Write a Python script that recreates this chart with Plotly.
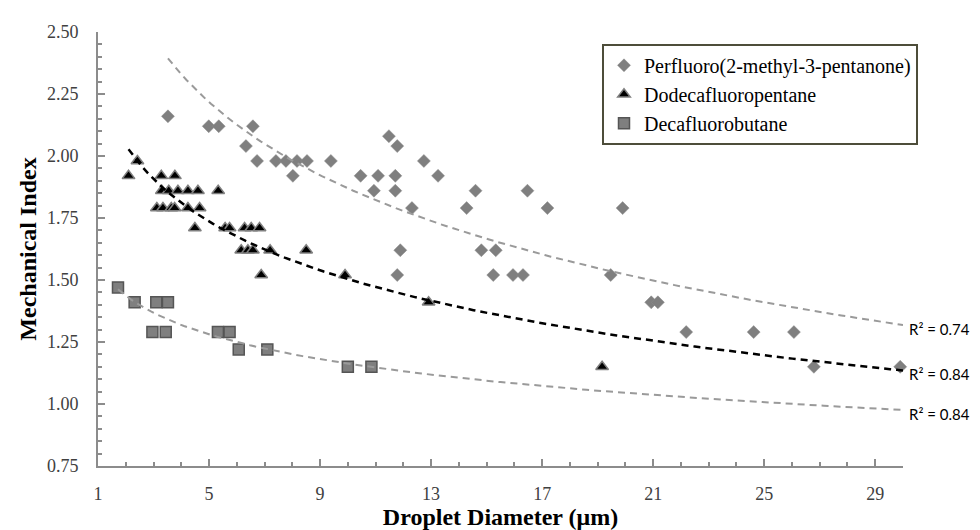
import numpy as np
import plotly.graph_objects as go

# ---- data ----
series_names = ["Perfluoro(2-methyl-3-pentanone)", "Dodecafluoropentane", "Decafluorobutane"]

pfmp_x = [3.52, 4.99, 5.35, 6.58, 6.33, 6.73, 7.41, 7.77, 8.17, 8.53, 8.02, 9.39, 10.46, 11.09,
          10.94, 11.48, 11.78, 11.71, 11.71, 12.74, 13.25, 12.31, 14.60, 14.28, 16.47, 17.19,
          11.89, 11.78, 14.81, 15.33, 15.24, 15.95, 16.31, 19.90, 19.47, 20.93, 21.17, 22.19,
          24.62, 26.07, 26.79, 29.90]
pfmp_y = [2.16, 2.12, 2.12, 2.12, 2.04, 1.98, 1.98, 1.98, 1.98, 1.98, 1.92, 1.98, 1.92, 1.92,
          1.86, 2.08, 2.04, 1.92, 1.86, 1.98, 1.92, 1.79, 1.86, 1.79, 1.86, 1.79,
          1.62, 1.52, 1.62, 1.62, 1.52, 1.52, 1.52, 1.79, 1.52, 1.41, 1.41, 1.29,
          1.29, 1.29, 1.15, 1.15]

ddfp_x = [2.10, 2.42, 3.28, 3.77,
          3.30, 3.55, 3.88, 4.24, 4.60, 5.33,
          3.12, 3.34, 3.64, 3.76, 4.24, 4.66,
          4.49, 5.58, 5.74, 6.28, 6.52, 6.82,
          6.16, 6.40, 6.58, 7.20, 8.50,
          6.88, 9.90, 12.91, 19.16]
ddfp_y = [1.92, 1.98, 1.92, 1.92,
          1.86, 1.86, 1.86, 1.86, 1.86, 1.86,
          1.79, 1.79, 1.79, 1.79, 1.79, 1.79,
          1.71, 1.71, 1.71, 1.71, 1.71, 1.71,
          1.62, 1.62, 1.62, 1.62, 1.62,
          1.52, 1.52, 1.41, 1.15]

dfb_x = [1.72, 2.32, 3.10, 3.52, 2.96, 3.44, 5.32, 5.74, 6.07, 7.10, 10.00, 10.85]
dfb_y = [1.47, 1.41, 1.41, 1.41, 1.29, 1.29, 1.29, 1.29, 1.22, 1.22, 1.15, 1.15]

r2_labels = ["R² = 0.74", "R² = 0.84", "R² = 0.84"]
x_ticks = [1, 5, 9, 13, 17, 21, 25, 29]
y_ticks = [0.75, 1.00, 1.25, 1.50, 1.75, 2.00, 2.25, 2.50]
x_max = 30

serif = "Liberation Serif, Times New Roman, serif"

fig = go.Figure()

marker_styles = [
    dict(symbol="diamond", size=10, color="#7f7f7f", line=dict(color="#8c8c8c", width=0.5)),
    dict(symbol="triangle-up", size=11, color="#000000", line=dict(color="#7f7f7f", width=1.5)),
    dict(symbol="square", size=11, color="#7f7f7f", line=dict(color="#555555", width=1.5)),
]
data = [(pfmp_x, pfmp_y), (ddfp_x, ddfp_y), (dfb_x, dfb_y)]

for name, (xs, ys), ms in zip(series_names, data, marker_styles):
    fig.add_trace(go.Scatter(x=xs, y=ys, mode="markers", name=name, marker=ms, cliponaxis=False))

trend_colors = ["#9a9a9a", "#000000", "#9a9a9a"]
trend_widths = [2, 2.5, 2]
for (xs, ys), col, w, lab in zip(data, trend_colors, trend_widths, r2_labels):
    b, a = np.polyfit(np.log(xs), ys, 1)
    tx = np.linspace(min(xs), x_max, 120)
    ty = a + b * np.log(tx)
    fig.add_trace(go.Scatter(x=tx, y=ty, mode="lines", showlegend=False, hoverinfo="skip",
                             line=dict(color=col, width=w, dash="7px,5px")))
    fig.add_annotation(x=x_max, y=ty[-1], text=lab, showarrow=False, xanchor="left",
                       xshift=4, yshift=-4,
                       font=dict(family="Lato, Open Sans, sans-serif", size=15, color="#000000"))

axis_common = dict(showline=True, linecolor="#8c8c8c", linewidth=2, showgrid=False, zeroline=False,
                   ticks="inside", ticklen=7, tickwidth=1.5, tickcolor="#8c8c8c",
                   tickfont=dict(family=serif, size=18, color="#404040"))

fig.update_xaxes(range=[1, x_max], tickvals=x_ticks, ticklabelstandoff=10,
                 minor=dict(dtick=1, tick0=1, ticks="inside", ticklen=4, tickcolor="#8c8c8c", tickwidth=1.5),
                 title=dict(text="<b>Droplet Diameter (μm)</b>", font=dict(family=serif, size=24, color="#000000"), standoff=6),
                 **axis_common)
fig.update_yaxes(range=[0.75, 2.5], tickvals=y_ticks, tickformat=".2f", ticklabelstandoff=14,
                 minor=dict(dtick=0.05, tick0=0.75, ticks="inside", ticklen=4, tickcolor="#8c8c8c", tickwidth=1.5),
                 title=dict(text="<b>Mechanical Index</b>", font=dict(family=serif, size=24, color="#000000"), standoff=4),
                 **axis_common)

fig.update_layout(
    width=980, height=530,
    margin=dict(l=90, r=85, t=24, b=65),
    paper_bgcolor="white", plot_bgcolor="white",
    legend=dict(x=(594 - 90) / 805, y=(465 - 36) / 441, xanchor="left", yanchor="top",
                bordercolor="#4d4d3a", borderwidth=2, bgcolor="white",
                font=dict(family=serif, size=20, color="#000000"), itemwidth=30,
                tracegroupgap=0),
    showlegend=True,
)

fig.write_html("out.html")
